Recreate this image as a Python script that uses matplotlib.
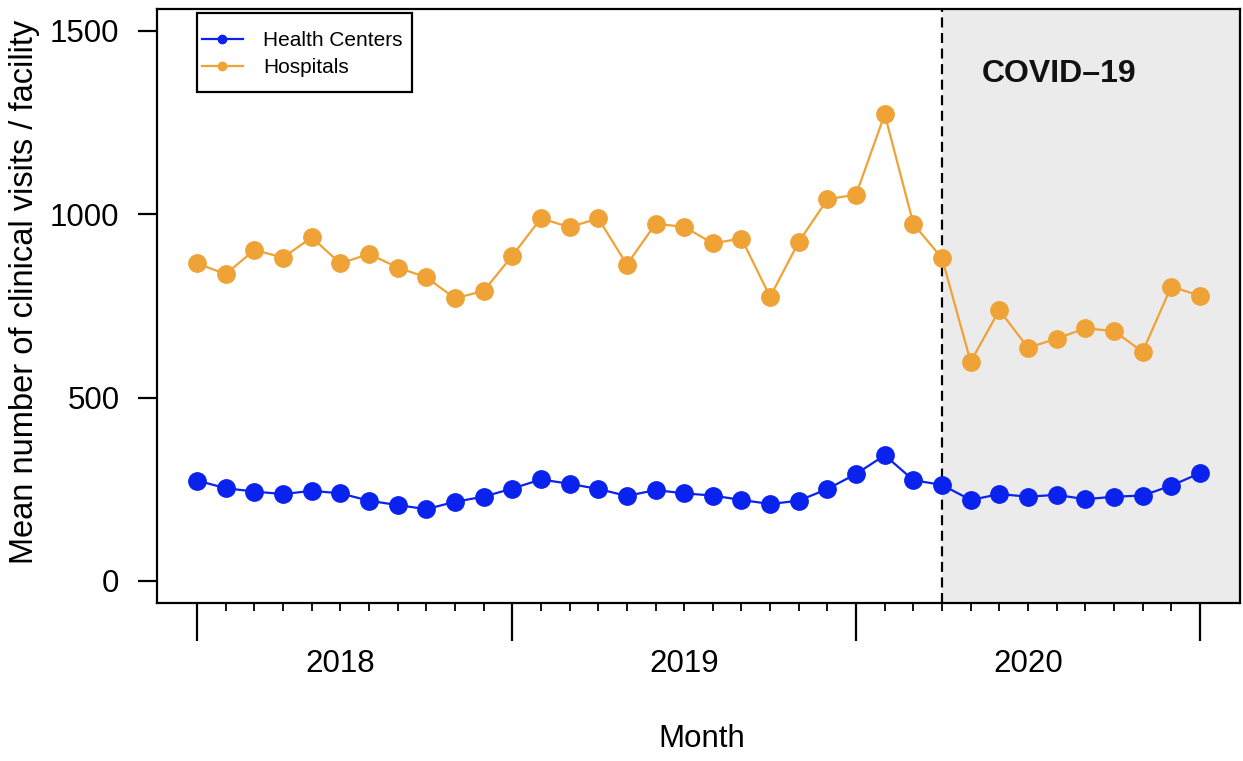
import matplotlib
matplotlib.use("Agg")
import matplotlib.pyplot as plt
import numpy as np
from matplotlib.lines import Line2D
from matplotlib.patches import Rectangle

plt.rcParams['font.family'] = ['Liberation Sans', 'DejaVu Sans']

# Monthly data, Jan 2018 .. Dec 2020 (36 months)
months = list(range(36))
health_centers = [274, 253, 244, 237, 246, 239, 219, 207, 196, 216, 230, 252,
                  277, 265, 251, 232, 248, 239, 233, 221, 210, 219, 251, 292,
                  343, 275, 262, 221, 237, 230, 235, 223, 230, 233, 260, 294]
hospitals = [866, 837, 903, 882, 937, 866, 892, 855, 828, 771, 791, 887,
             989, 965, 989, 863, 974, 966, 921, 934, 775, 925, 1041, 1054,
             1273, 974, 880, 598, 739, 636, 661, 689, 682, 625, 803, 778]
series_names = ["Health Centers", "Hospitals"]
year_labels = ["2018", "2019", "2020"]
year_label_pos = [5, 17, 29]
major_ticks = [0, 11, 23, 35]
covid_start = 26
y_ticks = [0, 500, 1000, 1500]

c_blue = '#0A22EE'
c_orange = '#EFA236'

W, H = 1243, 761
fig = plt.figure(figsize=(W/100, H/100), dpi=100)
ax = fig.add_axes([157/W, 1-603/H, (1240-157)/W, (603-9)/H])

ax.set_xlim(-1.4, 36.4)
ax.set_ylim(-60, 1560)

ax.axvspan(covid_start, 36.4, color='#EBEBEB', zorder=0, lw=0)
ax.axvline(covid_start, color='black', lw=1.6, ls=(0, (4.5, 2.5)), zorder=1)

ax.plot(months, health_centers, '-o', color=c_blue, lw=1.6, ms=12.5, zorder=3)
ax.plot(months, hospitals, '-o', color=c_orange, lw=1.6, ms=12.5, zorder=3)

ax.text(30.1, 1382, "COVID–19", fontsize=23, fontweight='bold',
        ha='center', va='center', color='#111111')

for s in ax.spines.values():
    s.set_linewidth(1.6)

ax.set_yticks(y_ticks)
ax.set_yticklabels([str(v) for v in y_ticks])
ax.tick_params(axis='y', length=14, width=1.6, labelsize=22.5, pad=13)

ax.set_xticks(major_ticks)
ax.set_xticklabels([])
ax.set_xticks(months, minor=True)
ax.tick_params(axis='x', which='major', length=27, width=1.6)
ax.tick_params(axis='x', which='minor', length=6, width=1.3)

for lbl, p in zip(year_labels, year_label_pos):
    ax.text(p, -0.102, lbl, transform=ax.get_xaxis_transform(),
            ha='center', va='center', fontsize=22.5)

fig.text(702/W, 1-739/H, "Month", ha='center', va='center', fontsize=22.5)
fig.text(25/W, 1-292/H, "Mean number of clinical visits / facility",
         rotation=90, ha='center', va='center', fontsize=23.5)

# legend drawn in figure pixel coordinates
fig.patches.append(Rectangle((197/W, 1-92/H), (412-197)/W, (92-13)/H,
                             transform=fig.transFigure, fill=True,
                             facecolor='white', edgecolor='black', lw=1.6,
                             zorder=5))
for name, col, yy in zip(series_names, [c_blue, c_orange], [39, 66]):
    fig.add_artist(Line2D([202/W, 243/W], [1-yy/H, 1-yy/H],
                          transform=fig.transFigure, color=col, lw=1.6,
                          zorder=6))
    fig.add_artist(Line2D([222/W], [1-yy/H], transform=fig.transFigure,
                          color=col, marker='o', ms=6, lw=0, zorder=6))
    fig.text(263/W, 1-(yy+1.5)/H, name, ha='left', va='center', fontsize=15,
             zorder=6)

fig.savefig("out.png", dpi=100)
